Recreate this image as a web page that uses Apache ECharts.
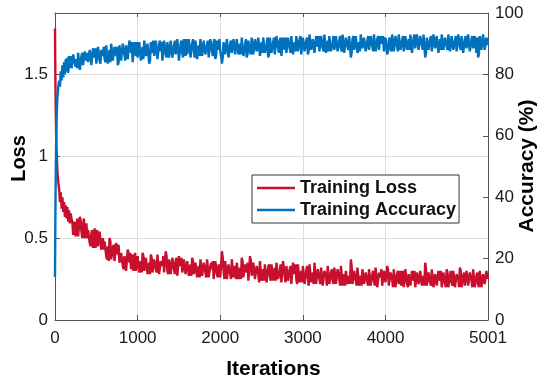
<!DOCTYPE html>
<html>
<head>
<meta charset="utf-8">
<script src="https://cdn.jsdelivr.net/npm/echarts@6/dist/echarts.min.js"></script>
<style>html,body{margin:0;padding:0;background:#fff}#c{width:550px;height:385px}</style>
</head>
<body>
<div id="c"></div>
<script>
// ---- data ----
const earlyIter = [0,5,10,15,20,25,30,40,50,60,70,80,90,100,110,120,130,140,150,160,170,180,190];
const earlyLoss = [1.78,1.45,1.25,1.10,1.02,0.96,0.90,0.84,0.80,0.72,0.78,0.68,0.75,0.66,0.72,0.63,0.70,0.62,0.69,0.60,0.67,0.59,0.65];
const earlyAcc  = [14,35,50,60,66,70,73,76,78,76,81,78,83,79,84,80,85,81,85.5,80.5,86,82,86];
// samples at iterations 200, 220, 240, ...
const startA = 200, startB = 210, regStep = 20;
const lossA = [
 0.62,0.52,0.60,0.56,0.51,0.63,0.54,0.58,0.50,0.59,
 0.55,0.47,0.53,0.44,0.56,0.49,0.45,0.54,0.43,0.50,
 0.48,0.39,0.45,0.50,0.37,0.44,0.36,0.47,0.40,0.35,
 0.41,0.33,0.39,0.30,0.43,0.35,0.31,0.40,0.37,0.30,
 0.39,0.29,0.36,0.41,0.30,0.38,0.28,0.35,0.40,0.29,
 0.37,0.31,0.40,0.28,0.36,0.33,0.29,0.42,0.30,0.37,
 0.28,0.38,0.31,0.36,0.27,0.39,0.33,0.29,0.37,0.28,
 0.36,0.27,0.34,0.38,0.28,0.35,0.26,0.33,0.37,0.27,
 0.35,0.29,0.37,0.26,0.33,0.31,0.25,0.36,0.28,0.34,
 0.26,0.42,0.30,0.36,0.25,0.34,0.28,0.37,0.26,0.33,
 0.35,0.25,0.32,0.38,0.26,0.34,0.29,0.24,0.39,0.27,
 0.35,0.25,0.33,0.28,0.36,0.24,0.31,0.34,0.23,0.32,
 0.27,0.34,0.24,0.32,0.35,0.25,0.30,0.23,0.36,0.27,
 0.33,0.24,0.31,0.22,0.35,0.28,0.25,0.34,0.23,0.30,
 0.33,0.22,0.30,0.26,0.34,0.23,0.29,0.35,0.22,0.31,
 0.25,0.32,0.21,0.30,0.27,0.33,0.22,0.29,0.24,0.32,
 0.22,0.31,0.25,0.33,0.21,0.28,0.30,0.22,0.27,0.37,
 0.22,0.30,0.24,0.32,0.21,0.27,0.31,0.22,0.29,0.23,
 0.31,0.21,0.28,0.24,0.32,0.20,0.29,0.26,0.21,0.30,
 0.23,0.33,0.21,0.29,0.25,0.31,0.20,0.28,0.22,0.30,
 0.26,0.20,0.31,0.22,0.28,0.21,0.30,0.24,0.20,0.29,
 0.22,0.30,0.21,0.27,0.35,0.21,0.29,0.23,0.31,0.20,
 0.28,0.21,0.30,0.24,0.20,0.29,0.22,0.31,0.20,0.27,
 0.23,0.30,0.20,0.28,0.25,0.32,0.20,0.27,0.21,0.30,
 0.21,0.29,0.24,0.31,0.20,0.27,0.22,0.30,0.20,0.28,
 0.22,0.30,0.25
];
// samples at iterations 210, 230, 250, ...
const lossB = [
 0.60,0.53,0.51,0.62,0.52,0.61,0.50,0.62,0.52,0.50,
 0.54,0.45,0.55,0.46,0.44,0.55,0.44,0.55,0.44,0.43,
 0.47,0.37,0.36,0.48,0.38,0.46,0.37,0.45,0.46,0.36,
 0.40,0.31,0.40,0.31,0.41,0.41,0.32,0.30,0.41,0.31,
 0.38,0.30,0.29,0.39,0.29,0.39,0.29,0.28,0.38,0.30,
 0.38,0.29,0.39,0.29,0.37,0.39,0.30,0.39,0.28,0.38,
 0.29,0.37,0.28,0.38,0.28,0.38,0.38,0.28,0.38,0.27,
 0.37,0.28,0.27,0.36,0.27,0.36,0.27,0.26,0.36,0.28,
 0.36,0.26,0.36,0.27,0.35,0.36,0.26,0.35,0.26,0.35,
 0.27,0.38,0.25,0.35,0.26,0.35,0.25,0.36,0.25,0.25,
 0.34,0.26,0.25,0.36,0.25,0.35,0.35,0.25,0.36,0.26,
 0.34,0.24,0.34,0.23,0.35,0.23,0.24,0.35,0.24,0.34,
 0.24,0.35,0.23,0.24,0.34,0.24,0.34,0.24,0.35,0.23,
 0.34,0.23,0.33,0.23,0.34,0.34,0.22,0.33,0.22,0.23,
 0.32,0.23,0.33,0.21,0.33,0.22,0.22,0.34,0.21,0.32,
 0.22,0.33,0.22,0.31,0.21,0.32,0.21,0.31,0.22,0.31,
 0.21,0.32,0.21,0.32,0.22,0.21,0.31,0.21,0.22,0.33,
 0.21,0.31,0.21,0.31,0.20,0.21,0.30,0.21,0.30,0.21,
 0.30,0.20,0.30,0.21,0.31,0.21,0.30,0.31,0.20,0.31,
 0.22,0.31,0.20,0.30,0.20,0.30,0.21,0.30,0.21,0.21,
 0.30,0.21,0.30,0.20,0.29,0.20,0.29,0.30,0.21,0.30,
 0.21,0.29,0.20,0.21,0.31,0.20,0.30,0.21,0.30,0.21,
 0.29,0.20,0.29,0.30,0.21,0.30,0.20,0.29,0.21,0.30,
 0.21,0.29,0.21,0.29,0.20,0.30,0.21,0.29,0.20,0.29,
 0.20,0.30,0.20,0.30,0.21,0.29,0.20,0.29,0.21,0.29,
 0.21,0.29
];
const accA = [
 82.0,86.5,83.5,85.0,87.0,81.5,86.0,83.0,87.5,84.5,
 84.0,88.0,83.0,88.5,85.5,83.5,89.0,84.5,88.0,86.0,
 85.0,89.5,83.5,88.0,90.0,84.5,89.0,86.0,83.0,89.5,
 84.5,90.0,86.5,89.5,85.0,91.0,87.0,84.0,90.5,86.0,
 85.5,90.5,84.5,89.0,91.0,86.0,90.0,83.5,90.5,87.0,
 86.0,91.0,85.0,90.0,87.5,84.5,91.0,86.5,90.5,85.5,
 91.0,85.5,89.5,86.5,91.5,84.5,90.0,87.0,91.5,86.0,
 86.5,91.5,85.5,90.0,88.0,91.0,85.0,89.5,91.5,86.0,
 91.0,86.5,89.5,85.5,91.5,87.5,90.5,85.0,91.0,88.0,
 87.5,83.5,90.5,86.5,91.5,85.5,90.0,87.0,91.5,86.5,
 91.5,86.5,90.0,92.0,86.0,89.5,85.5,91.0,87.5,92.0,
 86.5,91.5,87.5,92.0,86.0,90.5,92.0,87.0,89.5,85.5,
 92.0,87.0,90.5,86.5,92.5,88.5,91.0,86.0,92.0,88.0,
 87.0,92.0,88.5,92.5,86.5,90.5,92.5,87.5,91.5,86.5,
 92.0,87.5,91.0,86.5,93.0,88.0,91.5,87.0,92.5,89.0,
 87.5,92.5,88.5,93.0,87.0,91.0,92.5,87.5,90.5,88.0,
 92.5,87.5,91.0,88.5,93.0,87.0,92.0,89.0,92.5,85.5,
 91.5,88.0,92.5,87.0,90.5,93.0,88.5,92.0,87.5,91.0,
 88.0,92.5,89.0,93.0,87.5,91.5,88.0,92.5,90.0,87.5,
 92.0,86.5,91.0,88.5,93.0,87.5,92.5,89.0,93.0,88.0,
 91.0,87.5,92.5,88.0,91.5,93.0,87.0,92.0,88.5,93.0,
 88.0,92.5,89.5,93.0,85.5,92.0,88.0,91.5,87.5,93.0,
 88.5,92.5,87.0,91.5,93.0,88.0,92.0,89.0,93.0,87.5,
 92.5,88.0,91.0,87.5,93.0,89.0,92.5,87.0,91.5,88.5,
 93.0,87.5,91.5,88.5,92.5,87.0,85.5,92.5,88.0,93.0,
 88.0,92.0,89.5
];
const accB = [
 81.5,87.0,82.5,82.0,86.5,82.0,87.0,82.5,87.0,87.0,
 83.5,88.5,83.5,88.0,88.5,83.0,88.5,83.5,88.5,89.0,
 84.0,89.0,84.0,84.0,89.5,84.0,89.5,89.0,84.0,90.0,
 85.0,90.5,84.5,90.0,84.5,90.0,90.5,84.5,90.0,90.5,
 85.0,91.0,85.0,85.0,90.5,85.5,90.5,84.5,91.0,91.0,
 85.5,90.5,85.5,91.0,90.5,85.0,90.5,85.5,91.0,86.0,
 90.5,85.0,91.0,86.0,91.0,85.0,91.0,85.5,91.0,91.5,
 86.0,91.0,86.0,91.5,85.5,90.5,85.5,86.0,91.0,86.5,
 91.5,86.0,91.0,86.0,91.0,86.0,91.5,86.0,91.5,91.5,
 86.0,85.5,91.0,86.0,91.0,86.0,91.0,86.5,91.5,86.5,
 91.0,86.0,86.5,91.5,86.5,91.5,86.5,91.5,86.5,91.5,
 86.0,92.0,87.0,91.5,86.5,87.0,92.0,86.5,92.0,86.5,
 92.5,86.5,92.0,87.0,92.0,87.0,92.0,86.5,92.5,92.0,
 87.5,92.5,87.0,92.0,87.0,87.5,92.0,87.0,92.5,87.0,
 92.5,87.0,92.0,87.5,92.5,87.5,92.0,87.5,92.5,92.5,
 88.0,92.0,87.5,92.5,87.5,87.5,93.0,88.0,92.5,87.5,
 92.0,88.0,92.5,87.5,92.5,87.5,92.5,88.0,92.0,87.0,
 92.5,87.5,92.0,88.0,87.5,92.5,88.0,92.5,88.0,92.5,
 87.5,93.0,87.5,92.5,88.0,92.5,87.5,93.0,92.5,88.0,
 92.5,87.5,92.0,87.5,92.5,88.0,92.0,87.5,92.5,88.0,
 92.5,88.0,92.0,87.5,88.0,92.5,87.5,93.0,88.0,92.5,
 87.5,93.0,88.0,92.5,87.0,92.5,87.5,92.5,88.0,92.5,
 88.0,93.0,87.5,88.0,92.5,87.5,92.5,88.0,92.5,88.0,
 93.0,87.5,92.5,88.0,92.5,88.0,93.0,87.5,92.5,88.0,
 92.5,88.0,92.5,88.0,92.5,92.0,86.5,93.0,87.5,92.5,
 87.5,92.5
];
const xMax = 5240;
const xTickValues = [0,1000,2000,3000,4000,5240];
const xTickLabels = ['0','1000','2000','3000','4000','5001'];
const lossTickValues = [0,0.5,1,1.5];
const lossTickLabels = ['0','0.5','1','1.5'];
const lossMax = 1.875;
const seriesNames = ['Training Loss','Training Accuracy'];

// ---- build series pairs ----
function build(early, a, b){
  const out = earlyIter.map((x,i)=>[x, early[i]]);
  a.forEach((v,i)=>out.push([startA + i*regStep, v]));
  b.forEach((v,i)=>out.push([startB + i*regStep, v]));
  out.sort((p,q)=>p[0]-q[0]);
  return out;
}
const lossData = build(earlyLoss, lossA, lossB);
const accData = build(earlyAcc, accA, accB);

const FONT = 'Liberation Sans, Arial, sans-serif';
const axisCol = '#555555';
const txtCol = '#1a1a1a';
const RED = '#C8102E', BLUE = '#0072BD';

const chart = echarts.init(document.getElementById('c'), null, {renderer:'canvas'});
chart.setOption({
  animation:false,
  backgroundColor:'#ffffff',
  grid:{left:55, right:62, top:13, bottom:65, containLabel:false, outerBoundsMode:'none'},
  xAxis:[{
    type:'value', min:0, max:xMax, position:'bottom',
    axisLine:{show:true, onZero:false, lineStyle:{color:axisCol, width:1}},
    axisTick:{show:true, inside:true, length:5, customValues:[0,1000,2000,3000,4000], lineStyle:{color:axisCol}},
    axisLabel:{customValues:xTickValues, formatter:(v)=>xTickLabels[xTickValues.indexOf(v)],
      fontFamily:FONT, fontSize:17, color:txtCol, margin:10},
    splitLine:{show:true, lineStyle:{color:'#dedede', width:1}}
  },{
    type:'value', min:0, max:xMax, position:'top',
    axisLine:{show:true, onZero:false, lineStyle:{color:axisCol, width:1}},
    axisTick:{show:true, inside:true, length:4, customValues:[1000,2000,3000,4000], lineStyle:{color:axisCol}},
    axisLabel:{show:false}, splitLine:{show:false}
  }],
  yAxis:[{
    type:'value', min:0, max:lossMax, position:'left',
    axisLine:{show:true, onZero:false, lineStyle:{color:axisCol, width:1}},
    axisTick:{show:true, inside:true, length:5, customValues:lossTickValues, lineStyle:{color:axisCol}},
    axisLabel:{customValues:lossTickValues, formatter:(v)=>lossTickLabels[lossTickValues.indexOf(v)],
      fontFamily:FONT, fontSize:17, color:txtCol, margin:7},
    splitLine:{show:true, lineStyle:{color:'#dedede', width:1}}
  },{
    type:'value', min:0, max:100, interval:20, position:'right',
    axisLine:{show:true, onZero:false, lineStyle:{color:axisCol, width:1}},
    axisTick:{show:true, inside:true, length:5, lineStyle:{color:axisCol}},
    axisLabel:{fontFamily:FONT, fontSize:17, color:txtCol, margin:7},
    splitLine:{show:false}
  }],
  legend:{
    orient:'vertical', left:252, top:175,
    data:seriesNames,
    itemWidth:38, itemHeight:18, itemGap:4,
    padding:[4,3,4,5],
    backgroundColor:'#ffffff', borderColor:'#333333', borderWidth:1, borderRadius:0,
    textStyle:{fontFamily:FONT, fontSize:18, fontWeight:'bold', color:'#111111'},
    icon:'path://M0,0 L38,0 L38,2.4 L0,2.4 Z',
    selectedMode:false
  },
  series:[{
    name:seriesNames[0], type:'line', xAxisIndex:0, yAxisIndex:0,
    data:lossData, symbol:'none', showSymbol:false, clip:true,
    lineStyle:{color:RED, width:2.4}, itemStyle:{color:RED}, z:2
  },{
    name:seriesNames[1], type:'line', xAxisIndex:0, yAxisIndex:1,
    data:accData, symbol:'none', showSymbol:false, clip:true,
    lineStyle:{color:BLUE, width:2.4}, itemStyle:{color:BLUE}, z:3
  }],
  graphic:[
    {type:'text', x:19.5, y:158.5, rotation:Math.PI/2,
     style:{text:'Loss', fontFamily:FONT, fontSize:20, fontWeight:'bold', fill:'#000', align:'center', verticalAlign:'middle'}},
    {type:'text', x:527.5, y:166, rotation:Math.PI/2,
     style:{text:'Accuracy (%)', fontFamily:FONT, fontSize:21, fontWeight:'bold', fill:'#000', align:'center', verticalAlign:'middle'}},
    {type:'text', x:273.5, y:369,
     style:{text:'Iterations', fontFamily:FONT, fontSize:21, fontWeight:'bold', fill:'#000', align:'center', verticalAlign:'middle'}}
  ]
});
</script>
</body>
</html>
